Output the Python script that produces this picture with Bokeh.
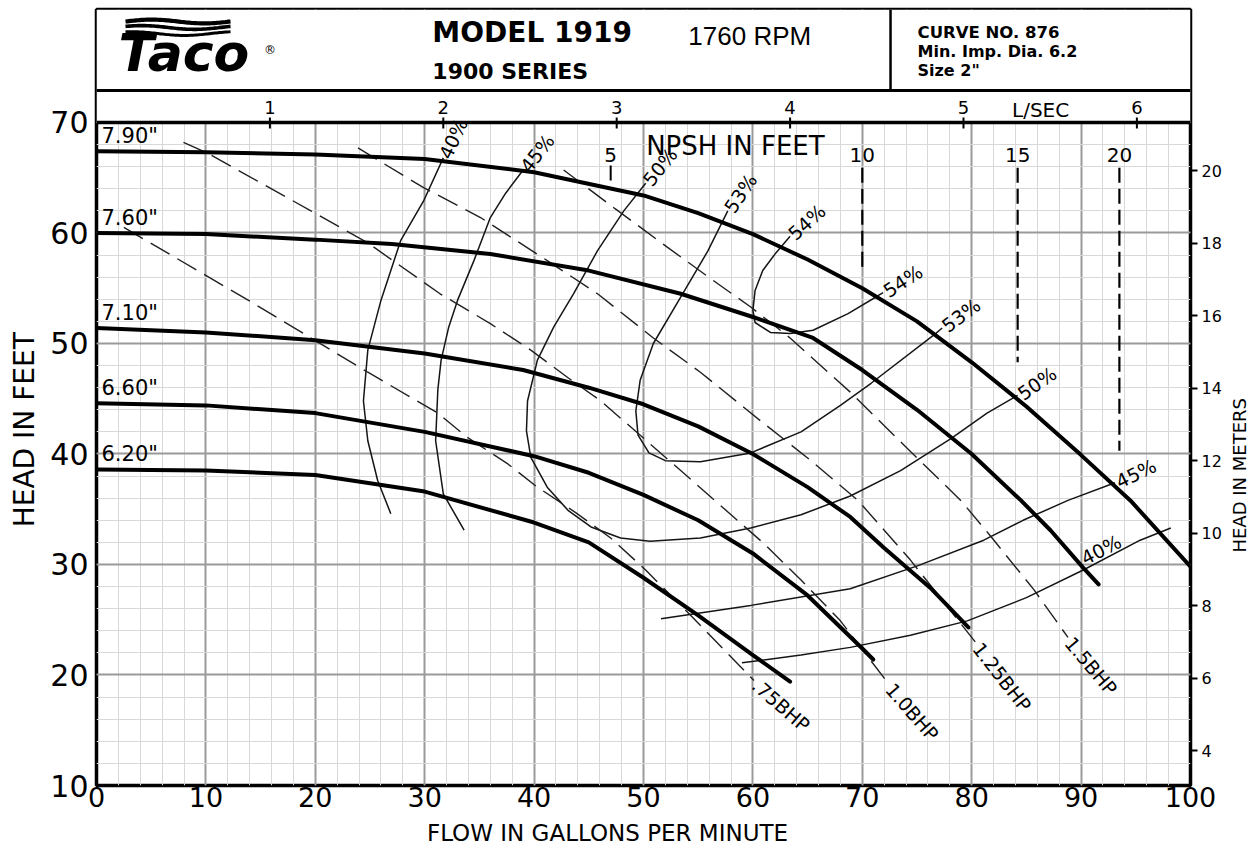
import math
import numpy as np
from bokeh.plotting import figure
from bokeh.layouts import row, column
from bokeh.models import Range1d, LinearAxis, FixedTicker, Span
from bokeh.core.properties import value
from bokeh.embed import file_html
from bokeh.resources import INLINE

# ---------------- values ----------------
flow_ticks = list(range(0, 101, 10))
flow_minor = list(range(0, 101, 2))
head_ticks = list(range(10, 71, 10))
head_minor = list(range(10, 71, 2))
meter_ticks = [4, 6, 8, 10, 12, 14, 16, 18, 20]
lps_ticks = [1, 2, 3, 4, 5, 6]

# impeller head-capacity curves (GPM, ft)
imp_names = ['7.90"', '7.60"', '7.10"', '6.60"', '6.20"']
flow_790 = [0, 10, 20, 30, 40, 50, 55, 60, 65, 70, 75, 80, 85, 90, 94.5, 100]
head_790 = [67.4, 67.3, 67.1, 66.7, 65.5, 63.4, 61.8, 59.9, 57.6, 55.0, 52.0, 48.3, 44.3, 39.9, 35.8, 29.8]
flow_760 = [0, 10, 20, 27, 36, 45, 53.4, 60, 65.5, 70, 75, 80, 84.5, 87.2, 90.2, 91.6]
head_760 = [60.0, 59.9, 59.4, 59.0, 58.1, 56.6, 54.5, 52.4, 50.5, 47.6, 44.0, 40.0, 35.8, 33.1, 29.7, 28.2]
flow_710 = [0, 10, 20, 30, 39, 45, 50, 55, 60, 65, 68.9, 72, 76.2, 79.7]
head_710 = [51.4, 51.0, 50.3, 49.1, 47.6, 46.0, 44.5, 42.5, 40.0, 37.0, 34.3, 31.5, 27.9, 24.3]
flow_660 = [0, 10, 20, 30, 40, 45, 50, 55, 60, 65, 70, 71]
head_660 = [44.6, 44.4, 43.7, 42.0, 39.8, 38.3, 36.3, 34.0, 31.0, 27.2, 22.4, 21.4]
flow_620 = [0, 10, 20, 30, 40, 45, 50, 55, 60, 63.4]
head_620 = [38.6, 38.5, 38.1, 36.6, 33.8, 32.0, 28.8, 25.4, 21.8, 19.4]

# efficiency lines
eff40a_flow = [31.7, 29.9, 27.8, 26.0, 24.8, 24.4, 24.8, 25.7, 26.9]
eff40a_head = [66.8, 62.9, 59.3, 53.9, 49.4, 44.8, 41.2, 37.6, 34.6]
eff40b_flow = [59.0, 64.4, 68.9, 74.4, 79.6, 85.0, 90.2, 95.4, 98.2]
eff40b_head = [21.1, 21.8, 22.5, 23.6, 24.9, 27.0, 29.5, 32.2, 33.3]
eff45a_flow = [39.0, 37.4, 36.0, 34.5, 33.0, 32.2, 31.5, 31.2, 31.0, 31.7, 33.6]
eff45a_head = [65.7, 63.6, 61.4, 57.5, 53.9, 51.5, 48.5, 45.8, 41.2, 36.4, 33.1]
eff45b_flow = [51.6, 59.8, 68.9, 75.1, 81.1, 84.7, 88.8, 93.1]
eff45b_head = [25.1, 26.3, 27.8, 29.9, 32.2, 34.0, 35.8, 37.4]
eff50_flow = [50.2, 48.2, 45.8, 43.6, 41.8, 40.3, 39.4, 39.3, 39.7, 41.2, 43.1, 45.2, 47.9,
              50.6, 55.2, 59.8, 64.4, 68.9, 73.5, 78.1, 81.4, 84.2]
eff50_head = [64.5, 62.0, 58.4, 54.5, 51.5, 48.5, 44.8, 42.1, 39.7, 37.0, 34.9, 33.4, 32.4,
              32.1, 32.4, 33.3, 34.5, 36.2, 38.5, 41.4, 43.7, 45.3]
eff53_flow = [57.7, 55.9, 53.4, 50.9, 49.7, 49.3, 49.5, 50.5, 52.0, 55.2, 59.8, 64.4, 68.0, 70.8, 76.7, 77.3]
eff53_head = [62.0, 58.4, 54.2, 50.0, 46.7, 43.9, 41.7, 40.1, 39.4, 39.3, 40.1, 42.0, 44.4, 46.4, 50.9, 51.4]
eff54_flow = [63.4, 62.1, 60.9, 60.2, 60.0, 60.2, 61.6, 63.4, 65.5, 68.7, 71.4, 71.9]
eff54_head = [59.7, 58.2, 56.6, 54.8, 53.0, 51.9, 51.0, 50.9, 51.2, 52.7, 54.3, 54.6]

# brake horsepower lines (dashed)
bhp_names = [".75BHP", "1.0BHP", "1.25BHP", "1.5BHP"]
bhp075_flow = [2.5, 13.9, 24.8, 31.2, 33.9, 37.6, 40.3, 43.8, 47.0, 50.2, 54.3, 60.1]
bhp075_head = [60.5, 53.9, 47.4, 43.7, 41.5, 39.1, 37.0, 34.7, 32.4, 29.5, 25.4, 19.5]
bhp100_flow = [7.95, 10.2, 19.6, 24.8, 31.4, 36.0, 39.7, 43.1, 46.1, 53.4, 61.0, 64.4, 68.0, 72.4]
bhp100_head = [68.2, 67.2, 62.0, 59.1, 54.5, 51.8, 49.4, 46.9, 44.8, 38.5, 31.9, 28.6, 24.9, 19.2]
bhp125_flow = [23.9, 29.9, 35.1, 41.2, 45.8, 50.9, 55.2, 60.7, 65.3, 69.6, 74.4, 80.4]
bhp125_head = [67.7, 64.1, 61.4, 57.5, 54.5, 50.5, 47.4, 43.0, 39.4, 35.8, 30.4, 22.9]
bhp150_flow = [42.7, 47.4, 52.2, 56.1, 59.8, 63.4, 68.9, 73.5, 79.0, 81.7, 85.7, 88.8]
bhp150_head = [65.7, 62.2, 58.7, 55.9, 53.3, 50.5, 45.6, 41.1, 35.8, 32.6, 27.7, 23.4]

# NPSH required markers
npsh_ft = [5, 10, 15, 20]
npsh_flow = [47.0, 70.0, 84.2, 93.5]
npsh_top = [66.1, 65.9, 65.9, 65.9]
npsh_bottom = [64.75, 56.6, 48.3, 40.3]

# ---------------- layout / style ----------------
FT_TO_M = 0.3048
GPM_PER_LPS = 15.850
Y_TOP = 80.226         # upper part of the frame holds the title block
HDR_Y = 72.9           # bottom line of the title block
DIV_X = 72.58          # divider inside the title block
FONT = "DejaVu Sans"

LEFT_W, MAIN_W, RIGHT_W = 42, 1182, 26
MAIN_H, BOTTOM_H = 818, 28

p = figure(width=MAIN_W, height=MAIN_H, title=None,
           x_range=Range1d(0, 100), y_range=Range1d(10, Y_TOP),
           output_backend="svg", toolbar_location=None,
           min_border_left=54, min_border_right=34, min_border_top=9, min_border_bottom=33)
p.background_fill_color = "white"
p.border_fill_color = "white"
p.outline_line_color = "black"
p.outline_line_width = 3.5

# grids
xg = p.xgrid[0]
xg.ticker = FixedTicker(ticks=flow_ticks, minor_ticks=flow_minor)
xg.grid_line_color = "#9a9a9a"
xg.grid_line_width = 2
xg.minor_grid_line_color = "#d8d8d8"
xg.minor_grid_line_width = 1
yg = p.ygrid[0]
yg.ticker = FixedTicker(ticks=head_ticks, minor_ticks=head_minor)
yg.grid_line_color = "#9a9a9a"
yg.grid_line_width = 2
yg.minor_grid_line_color = "#d8d8d8"
yg.minor_grid_line_width = 1


def quiet(ax):
    ax.axis_line_color = None
    ax.major_tick_out = 0
    ax.major_tick_in = 0
    ax.minor_tick_out = 0
    ax.minor_tick_in = 0
    ax.minor_tick_line_color = None
    ax.major_label_text_color = "black"
    ax.major_label_text_font = FONT


# bottom axis (GPM)
xa = p.xaxis[0]
quiet(xa)
xa.ticker = FixedTicker(ticks=flow_ticks)
xa.major_tick_line_color = None
xa.major_label_standoff = 1
xa.major_label_text_font_size = "27px"

# left axis (feet)
ya = p.yaxis[0]
quiet(ya)
ya.ticker = FixedTicker(ticks=head_ticks)
ya.major_tick_line_color = None
ya.major_label_standoff = 8
ya.major_label_text_font_size = "30px"

# right axis (meters)
p.extra_y_ranges = {"m": Range1d(10 * FT_TO_M, Y_TOP * FT_TO_M)}
ma = LinearAxis(y_range_name="m", ticker=FixedTicker(ticks=meter_ticks))
quiet(ma)
ma.major_tick_line_color = "black"
ma.major_tick_line_width = 2
ma.major_tick_out = 7
ma.major_label_standoff = 4
ma.major_label_text_font_size = "16px"
p.add_layout(ma, "right")

# title block background (hides the grid above the plotting area)
p.quad(left=[0], right=[100], bottom=[70], top=[Y_TOP], fill_color="white", line_color=None)


def txt(fig, x, y, text, size, angle=0.0, align="left", baseline="middle", style="normal",
        font=FONT, xo=0, yo=0):
    fig.text(x=[x], y=[y], text=[text], angle=[math.radians(angle)], text_align=align,
             text_baseline=baseline, text_font=value(font), text_font_size=f"{size}px",
             text_font_style=style, text_color="black", x_offset=xo, y_offset=yo)


# ---------------- efficiency lines ----------------
eff_series = [(eff40a_flow, eff40a_head), (eff40b_flow, eff40b_head),
              (eff45a_flow, eff45a_head), (eff45b_flow, eff45b_head),
              (eff50_flow, eff50_head), (eff53_flow, eff53_head), (eff54_flow, eff54_head)]
for fl, hd in eff_series:
    p.line(fl, hd, line_width=1.5, color="#151515")

# labels at the top ends
txt(p, eff40a_flow[0], eff40a_head[0], "40%", 19, angle=65, xo=1)
txt(p, eff45a_flow[0], eff45a_head[0], "45%", 19, angle=52, xo=1)
txt(p, eff50_flow[0], eff50_head[0], "50%", 19, angle=51, xo=1)
txt(p, eff53_flow[0], eff53_head[0], "53%", 19, angle=56, xo=1)
txt(p, eff54_flow[0], eff54_head[0], "54%", 19, angle=42, xo=1)
# labels at the right ends
txt(p, eff40b_flow[6], eff40b_head[6], "40%", 19, angle=27, baseline="bottom", xo=4, yo=-1)
txt(p, eff45b_flow[-1], eff45b_head[-1], "45%", 19, angle=26, xo=2)
txt(p, eff50_flow[-1], eff50_head[-1], "50%", 19, angle=35, xo=2)
txt(p, eff53_flow[-1], eff53_head[-1], "53%", 19, angle=37, xo=2)
txt(p, eff54_flow[-1], eff54_head[-1], "54%", 19, angle=33, xo=2)

# ---------------- brake horsepower lines ----------------
bhp_series = [(bhp075_flow, bhp075_head, -41), (bhp100_flow, bhp100_head, -49),
              (bhp125_flow, bhp125_head, -52), (bhp150_flow, bhp150_head, -50)]
for name, (fl, hd, ang) in zip(bhp_names, bhp_series):
    p.line(fl, hd, line_width=1.4, color="#202020", line_dash="22 9")
    txt(p, fl[-1], hd[-1], name, 19, angle=ang, xo=1, yo=2)

# ---------------- NPSH ----------------
p.segment(x0=npsh_flow[:1], y0=npsh_top[:1], x1=npsh_flow[:1], y1=npsh_bottom[:1],
          line_width=2, color="black")
p.segment(x0=npsh_flow[1:], y0=npsh_top[1:], x1=npsh_flow[1:], y1=npsh_bottom[1:],
          line_width=2.2, color="black", line_dash="15 6")
p.text(x=npsh_flow, y=[67.1] * len(npsh_ft), text=[str(v) for v in npsh_ft],
       text_align="center", text_baseline="middle", text_font=value(FONT),
       text_font_size="20px", text_color="black")
txt(p, 58.4, 67.83, "NPSH IN FEET", 26, align="center")

# ---------------- impeller curves ----------------
imp_series = [(flow_790, head_790), (flow_760, head_760), (flow_710, head_710),
              (flow_660, head_660), (flow_620, head_620)]
for name, (fl, hd) in zip(imp_names, imp_series):
    p.line(fl, hd, line_width=4, color="black", line_cap="round")
    txt(p, fl[0], hd[0], name, 21, baseline="bottom", xo=5, yo=-3)

# ---------------- L/SEC scale and title block ----------------
lps_x = [v * GPM_PER_LPS for v in lps_ticks]
p.segment(x0=lps_x, y0=[69.46] * len(lps_x), x1=lps_x, y1=[70.45] * len(lps_x),
          line_width=2, color="black")
p.text(x=lps_x, y=[71.4] * len(lps_x), text=[str(v) for v in lps_ticks],
       text_align="center", text_baseline="middle", text_font=value(FONT),
       text_font_size="18px", text_color="black")
txt(p, 86.3, 71.13, "L/SEC", 20, align="center")

p.add_layout(Span(location=70, dimension="width", line_color="black", line_width=3.5))
p.add_layout(Span(location=HDR_Y, dimension="width", line_color="black", line_width=3))
p.segment(x0=[DIV_X], y0=[HDR_Y], x1=[DIV_X], y1=[Y_TOP], line_width=2.5, color="black")

# logo
wave_x = np.linspace(2.65, 12.25, 60)
for i, base in enumerate([79.14, 78.6, 78.05]):
    wy = base + 0.17 * np.sin((wave_x - 2.65) / 9.6 * 2 * np.pi + 0.6 * i)
    p.line(wave_x, wy, line_width=4.2 - 0.6 * i, color="black")
txt(p, 2.0, 73.6, "Taco", 52, baseline="bottom", style="bold italic")
txt(p, 15.3, 76.6, "®", 12, baseline="middle")

txt(p, 30.7, 76.61, "MODEL 1919", 28, baseline="bottom", style="bold")
txt(p, 30.7, 73.44, "1900 SERIES", 22, baseline="bottom", style="bold")
txt(p, 54.1, 76.47, "1760 RPM", 26, baseline="bottom", font="Liberation Sans")
txt(p, 75.05, 77.33, "CURVE NO. 876", 16.5, baseline="bottom", style="bold")
txt(p, 75.05, 75.61, "Min. Imp. Dia. 6.2", 16, baseline="bottom", style="bold")
txt(p, 75.05, 73.89, 'Size 2"', 16, baseline="bottom", style="bold")


# ---------------- axis titles in thin side panels ----------------
def panel(w, h):
    f = figure(width=w, height=h, title=None, x_range=Range1d(0, w), y_range=Range1d(0, h),
               x_axis_type=None, y_axis_type=None, toolbar_location=None,
               output_backend="svg", min_border=0)
    f.outline_line_color = None
    f.background_fill_color = "white"
    f.border_fill_color = "white"
    return f


left_p = panel(LEFT_W, MAIN_H)
txt(left_p, 24, MAIN_H - 443, "HEAD IN FEET", 28, angle=90, align="center")
right_p = panel(RIGHT_W, MAIN_H)
txt(right_p, 15, MAIN_H - 491, "HEAD IN METERS", 18, angle=90, align="center")
bottom_p = panel(LEFT_W + MAIN_W + RIGHT_W, BOTTOM_H)
txt(bottom_p, 607, 14, "FLOW IN GALLONS PER MINUTE", 23, align="center")

layout = column(row(left_p, p, right_p), bottom_p)
open("out.html", "w").write(file_html(layout, INLINE, title="Taco Model 1919 pump curve"))
